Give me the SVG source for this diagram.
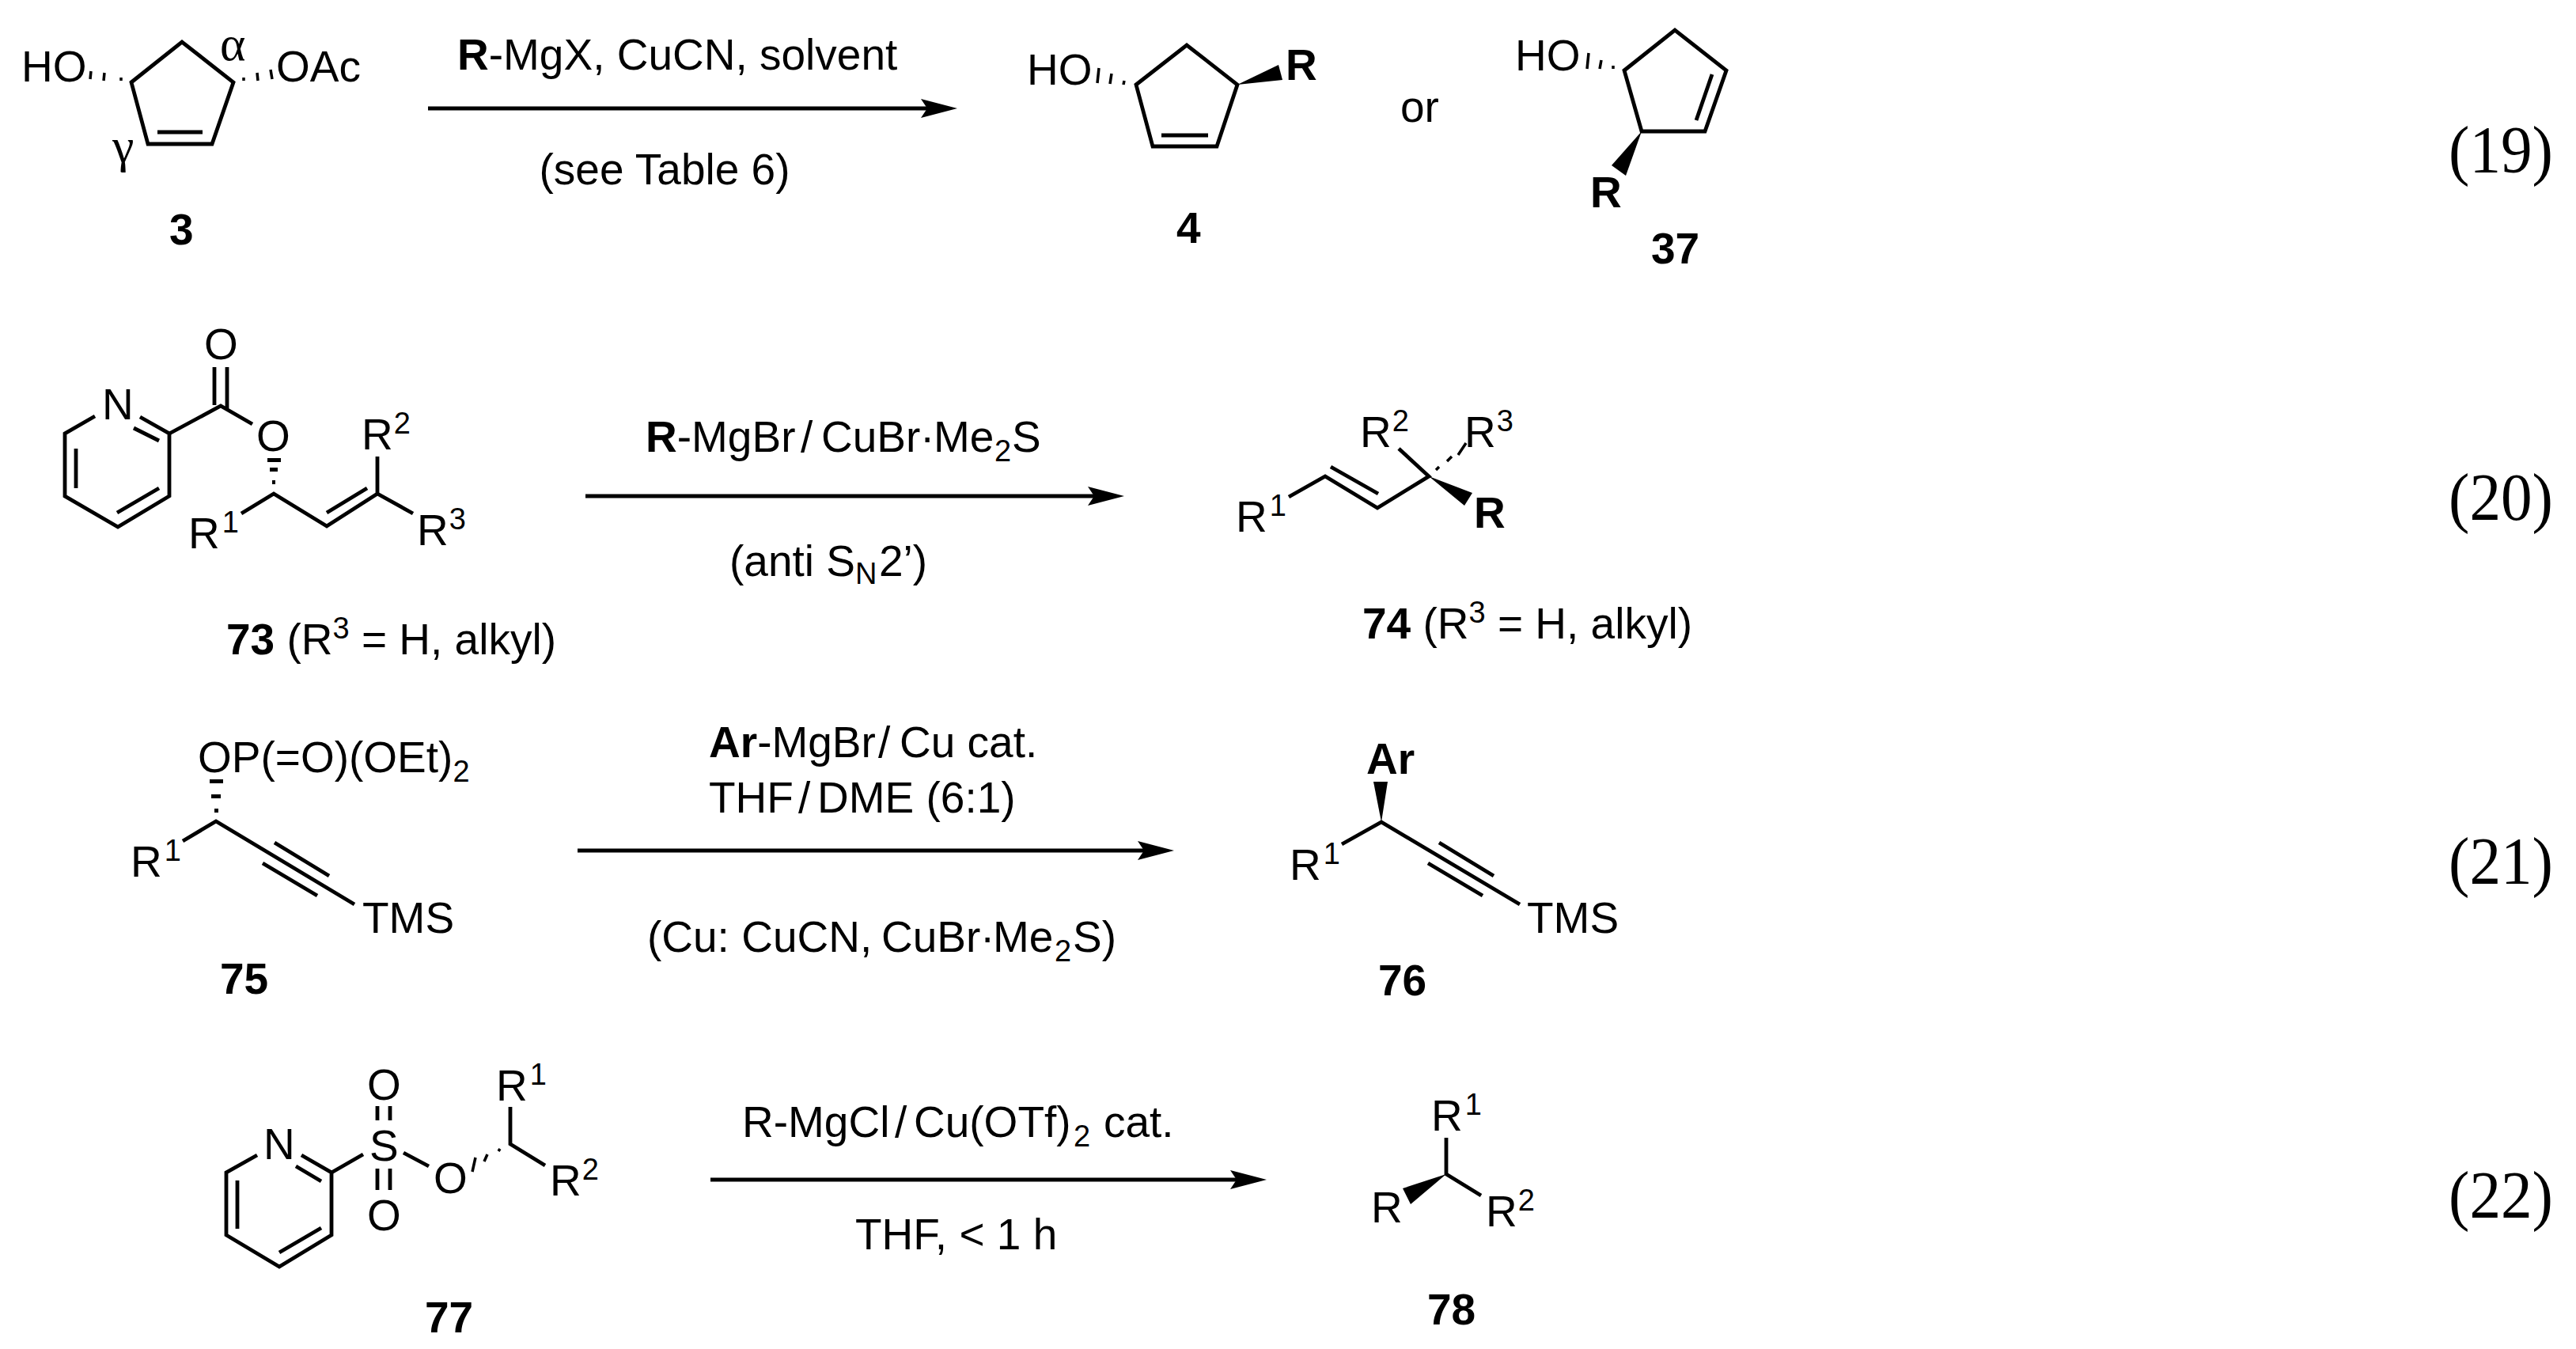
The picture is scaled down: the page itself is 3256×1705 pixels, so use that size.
<svg xmlns="http://www.w3.org/2000/svg" width="3256" height="1705" viewBox="0 0 3256 1705">
<style>
text{font-family:"Liberation Sans",Arial,sans-serif;font-size:55px;fill:#000}
.n{font-weight:bold}
.s{font-size:38px}
.g{font-family:"Liberation Serif",serif;font-size:62px}
.e{font-family:"Liberation Serif",serif;font-size:85px;text-anchor:middle}
.b{fill:none;stroke:#000;stroke-width:4.8;stroke-linejoin:miter}
.h{fill:none;stroke:#000;stroke-width:3.5}
.w{fill:#000}
.a{stroke:#000;stroke-width:5;fill:none;marker-end:url(#ah)}
</style>
<defs>
<marker id="ah" markerUnits="userSpaceOnUse" markerWidth="46" markerHeight="26" refX="8" refY="13" orient="auto"><path d="M0,1 L46,13 L0,25 L8,13 Z" fill="#000"/></marker>
</defs>
<rect width="3256" height="1705" fill="#fff"/>
<g id="connectors">
<line class="a" x1="541" y1="137" x2="1172" y2="137"/>
<line class="a" x1="740" y1="627" x2="1383" y2="627"/>
<line class="a" x1="730" y1="1075" x2="1446" y2="1075"/>
<line class="a" x1="898" y1="1491" x2="1563" y2="1491"/>
</g>
<g id="compound-3">
<path class="b" d="M166,104 L230,53 L295,104 L268,182 L187,182 Z"/>
<path class="b" d="M199,167 H256"/>
<path class="h" d="M115,90 L114,100 M132,92 L131,102 M153,98 L153,102 M308,98 L308,102 M325,92 L326,102 M342,88 L344,100"/>
<text x="27" y="103">HO</text><text x="349" y="103">OAc</text>
<text class="g" x="278" y="76">α</text><text class="g" x="142" y="205">γ</text>
<text class="n" x="214" y="309">3</text>
</g>
<g id="conditions-19">
<text x="578" y="88"><tspan class="n">R</tspan>-MgX, CuCN, solvent</text>
<text x="840" y="233" text-anchor="middle">(see Table 6)</text>
</g>
<g id="compound-4">
<path class="b" d="M1436,107 L1500,57 L1564,107 L1538,185 L1457,185 Z"/>
<path class="b" d="M1468,171 H1527"/>
<path class="h" d="M1389,86 L1387,105 M1405,93 L1403,106 M1421,102 L1420,107"/>
<path class="w" d="M1564,107 L1616,82 L1621,101 Z"/>
<text x="1298" y="107">HO</text><text class="n" x="1625" y="101">R</text>
<text class="n" x="1487" y="307">4</text>
</g>
<g id="or"><text x="1770" y="154">or</text></g>
<g id="compound-37">
<path class="b" d="M2053,89 L2117,38 L2182,89 L2155,166 L2075,166 Z"/>
<path class="b" d="M2164,94 L2144,152"/>
<path class="h" d="M2008,67 L2006,87 M2024,76 L2022,87 M2039,83 L2039,87"/>
<path class="w" d="M2075,166 L2037,209 L2055,222 Z"/>
<text x="1915" y="89">HO</text><text class="n" x="2010" y="262">R</text>
<text class="n" x="2087" y="333">37</text>
</g>
<g id="equation-numbers">
<text class="e" x="3161" y="218" textLength="132" lengthAdjust="spacingAndGlyphs">(19)</text>
<text class="e" x="3161" y="657" textLength="132" lengthAdjust="spacingAndGlyphs">(20)</text>
<text class="e" x="3161" y="1117" textLength="132" lengthAdjust="spacingAndGlyphs">(21)</text>
<text class="e" x="3161" y="1539" textLength="132" lengthAdjust="spacingAndGlyphs">(22)</text>
</g>
<g id="compound-73">
<path class="b" d="M120,526 L82,548 V627 L149,666 L214,627 V548 L177,527"/>
<path class="b" d="M96,567 V617 M148,648 L201,617 M169,541 L201,557"/>
<path class="b" d="M214,548 L279,513 L319,536 M271,464 V512 M287,464 V517"/>
<path class="b" d="M305,649 L346,624 L413,665 L477,624 L522,649 M413,648 L464,617 M477,624 V577"/>
<path class="w" d="M338,579 H355 V584 H338 Z M341,591 H351 V596 H341 Z M344,607 H348 V612 H344 Z"/>
<text x="129" y="530">N</text><text x="258" y="454">O</text><text x="324" y="570">O</text>
<text x="238" y="693">R<tspan class="s" dx="3" dy="-20">1</tspan></text>
<text x="457" y="568">R<tspan class="s" dx="1" dy="-20">2</tspan></text>
<text x="527" y="689">R<tspan class="s" dx="1" dy="-20">3</tspan></text>
<text x="286" y="827"><tspan class="n">73</tspan> (R<tspan class="s" dy="-20">3</tspan><tspan dy="20"> = H, alkyl)</tspan></text>
</g>
<g id="conditions-20">
<text x="816" y="571"><tspan class="n">R</tspan>-MgBr<tspan x="1012">/</tspan><tspan x="1038">CuBr</tspan><tspan x="1163">·</tspan><tspan x="1180">Me</tspan><tspan class="s" x="1257" dy="12">2</tspan><tspan x="1279" dy="-12">S</tspan></text>
<text x="922" y="728">(anti S<tspan class="s" x="1081" dy="10">N</tspan><tspan x="1111" dy="-10">2’)</tspan></text>
</g>
<g id="compound-74">
<path class="b" d="M1629,628 L1675,602 L1741,642 L1806,602 L1768,567 M1682,590 L1742,624"/>
<path class="h" d="M1815,594 L1819,590 M1829,583 L1835,577 M1843,575 L1853,560"/>
<path class="w" d="M1806,602 L1861,623 L1851,639 Z"/>
<text x="1562" y="672">R<tspan class="s" dx="3" dy="-20">1</tspan></text>
<text x="1719" y="565">R<tspan class="s" dx="1" dy="-20">2</tspan></text>
<text x="1851" y="565">R<tspan class="s" dx="1" dy="-20">3</tspan></text>
<text class="n" x="1863" y="667">R</text>
<text x="1722" y="807"><tspan class="n">74</tspan> (R<tspan class="s" dy="-20">3</tspan><tspan dy="20"> = H, alkyl)</tspan></text>
</g>
<g id="compound-75">
<path class="b" d="M231,1063 L273,1038 L448,1143 M347,1065 L416,1107 M332,1091 L401,1132"/>
<path class="w" d="M265,985 H282 V990 H265 Z M267,1004 H279 V1009 H267 Z M271,1022 H276 V1027 H271 Z"/>
<text x="250" y="976">OP(=O)(OEt)<tspan class="s" dy="12">2</tspan></text>
<text x="165" y="1108">R<tspan class="s" dx="3" dy="-20">1</tspan></text>
<text x="458" y="1179">TMS</text>
<text class="n" x="278" y="1256">75</text>
</g>
<g id="conditions-21">
<text x="896" y="957"><tspan class="n">Ar</tspan>-MgBr<tspan x="1110">/</tspan><tspan x="1137">Cu cat.</tspan></text>
<text x="896" y="1027">THF<tspan x="1009">/</tspan><tspan x="1033">DME (6:1)</tspan></text>
<text x="818" y="1203">(Cu: CuCN, <tspan x="1114">CuBr</tspan><tspan x="1239">·</tspan><tspan x="1255">Me</tspan><tspan class="s" x="1333" dy="12">2</tspan><tspan x="1356" dy="-12">S)</tspan></text>
</g>
<g id="compound-76">
<path class="b" d="M1696,1067 L1746,1039 L1921,1143 M1819,1065 L1888,1107 M1805,1091 L1874,1132"/>
<path class="w" d="M1746,1039 L1736,988 H1754 Z"/>
<text class="n" x="1727" y="978">Ar</text>
<text x="1630" y="1112">R<tspan class="s" dx="3" dy="-20">1</tspan></text>
<text x="1930" y="1179">TMS</text>
<text class="n" x="1742" y="1258">76</text>
</g>
<g id="compound-77">
<path class="b" d="M325,1460 L286,1482 V1561 L353,1601 L419,1561 V1482 L381,1460"/>
<path class="b" d="M300,1492 V1553 M353,1583 L406,1552 M374,1474 L406,1493 M419,1482 L459,1459"/>
<path class="b" d="M477,1398 V1416 M493,1398 V1416 M477,1477 V1504 M493,1477 V1504 M510,1457 L542,1474"/>
<path class="b" d="M645,1399 V1446 L689,1473"/>
<path class="h" d="M601,1463 L597,1481 M616,1459 L612,1468 M632,1452 L630,1455"/>
<text x="333" y="1465">N</text><text x="467" y="1467">S</text>
<text x="464" y="1390">O</text><text x="464" y="1555">O</text><text x="548" y="1508">O</text>
<text x="627" y="1391">R<tspan class="s" dx="3" dy="-20">1</tspan></text>
<text x="695" y="1511">R<tspan class="s" dx="1" dy="-20">2</tspan></text>
<text class="n" x="537" y="1684">77</text>
</g>
<g id="conditions-22">
<text x="938" y="1437">R-MgCl<tspan x="1131">/</tspan><tspan x="1155">Cu(OTf)</tspan><tspan class="s" x="1357" dy="12">2</tspan><tspan x="1395" dy="-12">cat.</tspan></text>
<text x="1081" y="1579">THF, &lt; 1 h</text>
</g>
<g id="compound-78">
<path class="b" d="M1828,1438 V1484 L1872,1511"/>
<path class="w" d="M1828,1484 L1773,1502 L1783,1522 Z"/>
<text x="1809" y="1429">R<tspan class="s" dx="3" dy="-20">1</tspan></text>
<text x="1733" y="1545">R</text>
<text x="1878" y="1550">R<tspan class="s" dx="1" dy="-20">2</tspan></text>
<text class="n" x="1804" y="1674">78</text>
</g>
</svg>
